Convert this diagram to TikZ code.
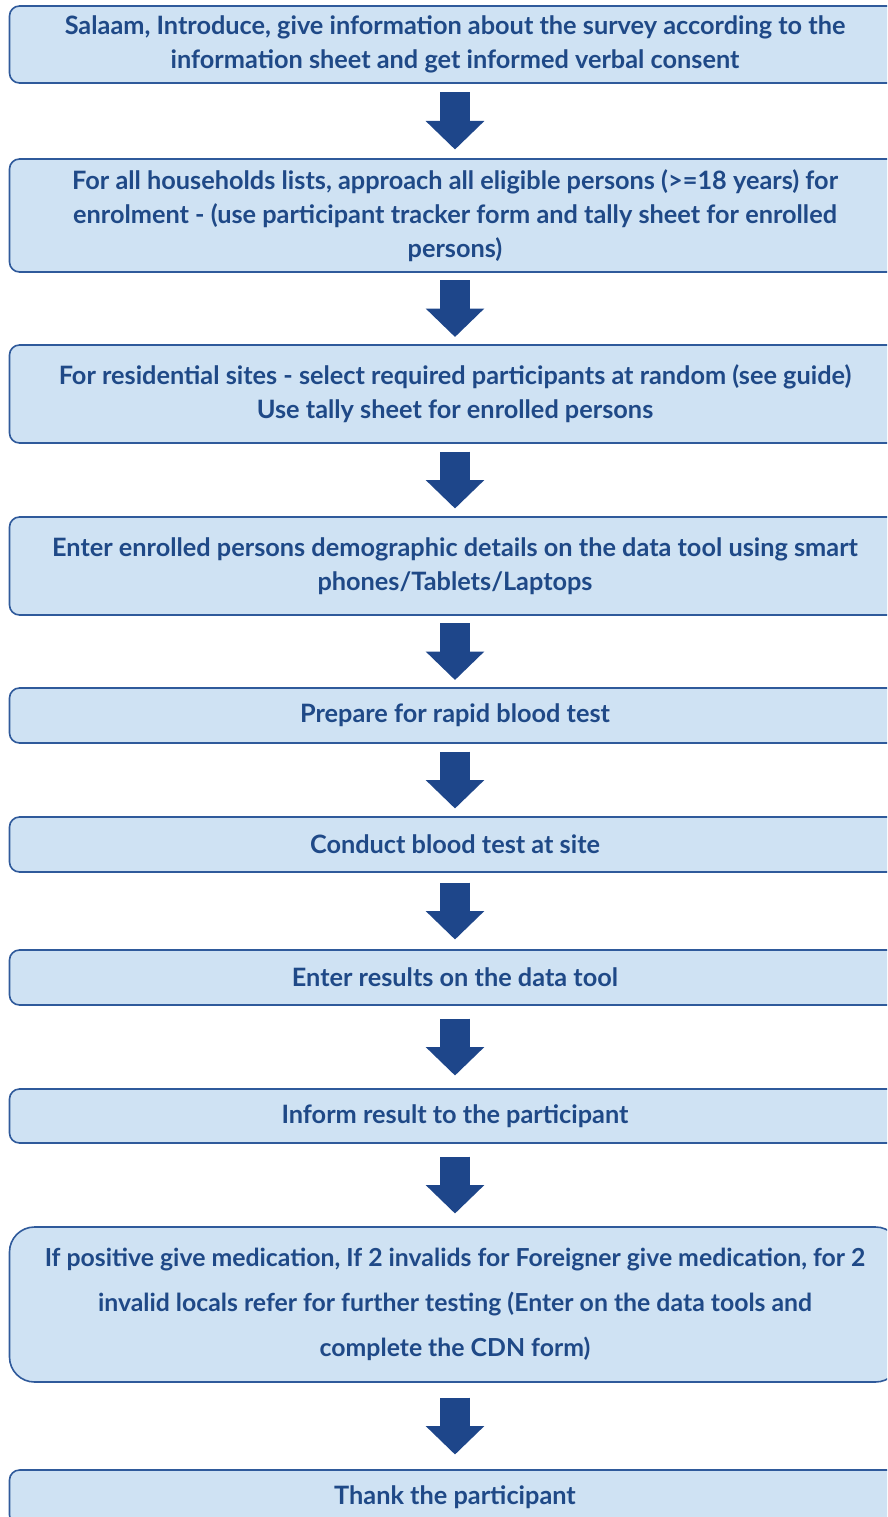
\documentclass[tikz,border=0pt]{standalone}
\usepackage{fontspec}
\setmainfont{Lato}
\usetikzlibrary{positioning,calc,arrows.meta}

\definecolor{boxfill}{RGB}{207,226,243}
\definecolor{boxline}{RGB}{47,90,155}
\definecolor{boxtext}{RGB}{31,73,135}
\definecolor{arrowblue}{RGB}{30,70,138}

\tikzset{
  stepbox/.style={draw=boxline,fill=boxfill,line width=1.6pt,rounded corners=10pt,
    minimum width=891pt,align=center,text=boxtext,
    font=\fontsize{25.3pt}{33.8pt}\selectfont\bfseries},
  blockarrow/.style={draw=arrowblue,line width=30pt,
    -{Triangle[width=57pt,length=28.5pt]}}
}

\begin{document}
\begin{tikzpicture}[x=1pt,y=-1pt]
  \useasboundingbox (0,0) rectangle (887,1517);
  \clip (0,0) rectangle (887,1517);

  \node[stepbox,minimum height=77pt] (intro) at (455,44.5)
    {Salaam, Introduce, give information about the survey according to the\\
     information sheet and get informed verbal consent};
  \node[stepbox,minimum height=113pt] (enrol) at (455,215.5)
    {For all households lists, approach all eligible persons (>=18 years) for\\
     enrolment - (use participant tracker form and tally sheet for enrolled\\
     persons)};
  \node[stepbox,minimum height=98pt] (select) at (455,394)
    {For residential sites - select required participants at random (see guide)\\
     Use tally sheet for enrolled persons};
  \node[stepbox,minimum height=98pt] (demog) at (455,566)
    {Enter enrolled persons demographic details on the data tool using smart\\
     phones/Tablets/Laptops};
  \node[stepbox,minimum height=55pt] (prep) at (455,715.5)
    {Prepare for rapid blood test};
  \node[stepbox,minimum height=55pt] (test) at (455,844.5)
    {Conduct blood test at site};
  \node[stepbox,minimum height=55pt] (result) at (455,977.5)
    {Enter results on the data tool};
  \node[stepbox,minimum height=54pt] (inform) at (455,1116)
    {Inform result to the participant};
  \node[stepbox,minimum height=155pt,rounded corners=25pt,
    font=\fontsize{24.8pt}{45pt}\selectfont\bfseries] (medic) at (455,1304.5)
    {If positive give medication, If 2 invalids for Foreigner give medication, for 2\\
     invalid locals refer for further testing (Enter on the data tools and\\
     complete the CDN form)};
  \node[stepbox,minimum height=55pt] (thank) at (455,1497.5)
    {Thank the participant};

  \foreach \a/\b in {intro/enrol,enrol/select,select/demog,demog/prep,prep/test,
                     test/result,result/inform,inform/medic,medic/thank}
  {
    \coordinate (m) at ($(\a.south)!.5!(\b.north)$);
    \draw[blockarrow] ([yshift=28.5pt]m) -- ([yshift=-28.5pt]m);
  }
\end{tikzpicture}
\end{document}
